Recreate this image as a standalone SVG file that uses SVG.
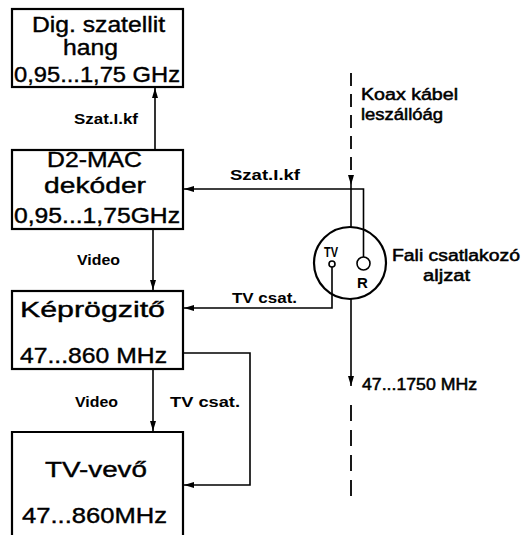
<svg xmlns="http://www.w3.org/2000/svg" width="523" height="535" viewBox="0 0 523 535">
<style>
.box{fill:none;stroke:#000;stroke-width:2.2}
.ln{fill:none;stroke:#000;stroke-width:1.6}
.dash{fill:none;stroke:#000;stroke-width:1.8}
.big{font-family:"Liberation Sans",Arial,sans-serif;font-size:22px;fill:#000;stroke:#000;stroke-width:0.4}
.lbl{font-family:"Liberation Sans",Arial,sans-serif;font-size:15px;font-weight:bold;fill:#000}
.txt{font-family:"Liberation Sans",Arial,sans-serif;font-size:16px;fill:#000;stroke:#000;stroke-width:0.5}
</style>
<defs>
<marker id="ah" viewBox="0 0 10 6" refX="10" refY="3" markerWidth="10" markerHeight="6" markerUnits="userSpaceOnUse" orient="auto">
<path d="M0,0 L10,3 L0,6 Z" fill="#000"/>
</marker>
</defs>
<rect width="523" height="535" fill="#fff"/>

<g id="n1">
<rect class="box" x="12" y="9" width="171" height="78"/>
<text class="big" x="32" y="32" textLength="133" lengthAdjust="spacingAndGlyphs">Dig. szatellit</text>
<text class="big" x="63" y="55" textLength="55" lengthAdjust="spacingAndGlyphs">hang</text>
<text class="big" x="14" y="82" textLength="166" lengthAdjust="spacingAndGlyphs">0,95...1,75 GHz</text>
</g>

<g id="n2">
<rect class="box" x="12" y="150" width="171" height="79"/>
<text class="big" x="47" y="167" textLength="95" lengthAdjust="spacingAndGlyphs">D2-MAC</text>
<text class="big" x="44" y="193" textLength="102" lengthAdjust="spacingAndGlyphs">dekóder</text>
<text class="big" x="14" y="223" textLength="166" lengthAdjust="spacingAndGlyphs">0,95...1,75GHz</text>
</g>

<g id="n3">
<rect class="box" x="12" y="291" width="171" height="78"/>
<text class="big" x="20" y="317" textLength="145" lengthAdjust="spacingAndGlyphs">Képrögzitő</text>
<text class="big" x="20" y="363" textLength="147" lengthAdjust="spacingAndGlyphs">47...860 MHz</text>
</g>

<g id="n4">
<path class="box" d="M12,545 V432 H183 V545"/>
<text class="big" x="45" y="477" font-size="25" textLength="102" lengthAdjust="spacingAndGlyphs">TV-vevő</text>
<text class="big" x="22" y="523" font-size="25" textLength="145" lengthAdjust="spacingAndGlyphs">47...860MHz</text>
</g>

<g id="socket">
<circle class="box" cx="350" cy="263" r="36"/>
<circle class="ln" cx="332" cy="264" r="3"/>
<circle class="ln" cx="363.5" cy="263.5" r="6.5"/>
<text class="lbl" x="324" y="257" font-size="15" textLength="14" lengthAdjust="spacingAndGlyphs">TV</text>
<text class="lbl" x="357" y="288" font-size="15">R</text>
</g>

<g id="connectors">
<line class="ln" x1="155" y1="150" x2="155" y2="88" marker-end="url(#ah)"/>
<line class="ln" x1="153" y1="229" x2="153" y2="290" marker-end="url(#ah)"/>
<line class="ln" x1="153" y1="369" x2="153" y2="431" marker-end="url(#ah)"/>
<polyline class="ln" points="363.5,257 363.5,189 184,189" marker-end="url(#ah)"/>
<polyline class="ln" points="332,267 332,308 184,308" marker-end="url(#ah)"/>
<polyline class="ln" points="183,353 250,353 250,485 184,485" marker-end="url(#ah)"/>
<line class="dash" x1="351" y1="73" x2="351" y2="176" stroke-dasharray="13,8"/>
<line class="ln" x1="351" y1="176" x2="351" y2="185" marker-end="url(#ah)"/>
<line class="ln" x1="351" y1="185" x2="351" y2="227"/>
<line class="ln" x1="351" y1="299" x2="351" y2="386" marker-end="url(#ah)"/>
<line class="dash" x1="351" y1="405" x2="351" y2="500" stroke-dasharray="16,9"/>
</g>

<g id="labels">
<text class="lbl" x="74" y="124" textLength="64" lengthAdjust="spacingAndGlyphs">Szat.I.kf</text>
<text class="lbl" x="230" y="180" textLength="70" lengthAdjust="spacingAndGlyphs">Szat.I.kf</text>
<text class="lbl" x="77" y="265" textLength="43" lengthAdjust="spacingAndGlyphs">Video</text>
<text class="lbl" x="232" y="303" textLength="65" lengthAdjust="spacingAndGlyphs">TV csat.</text>
<text class="lbl" x="75" y="407" textLength="43" lengthAdjust="spacingAndGlyphs">Video</text>
<text class="lbl" x="170" y="407" textLength="70" lengthAdjust="spacingAndGlyphs">TV csat.</text>
<text class="txt" x="361" y="100" textLength="97" lengthAdjust="spacingAndGlyphs">Koax kábel</text>
<text class="txt" x="361" y="120" textLength="82" lengthAdjust="spacingAndGlyphs">leszállóág</text>
<text class="txt" x="392" y="261" textLength="128" lengthAdjust="spacingAndGlyphs">Fali csatlakozó</text>
<text class="txt" x="423" y="281" textLength="47" lengthAdjust="spacingAndGlyphs">aljzat</text>
<text class="txt" x="362" y="390" textLength="115" lengthAdjust="spacingAndGlyphs">47...1750 MHz</text>
</g>
</svg>
